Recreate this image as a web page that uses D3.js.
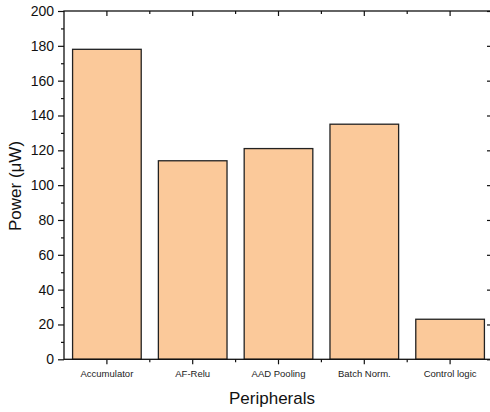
<!DOCTYPE html>
<html>
<head>
<meta charset="utf-8">
<script src="https://cdn.jsdelivr.net/npm/d3@7"></script>
<style>
  body { margin: 0; background: #fff; }
  svg { display: block; font-family: Arial, "Liberation Sans", sans-serif; }
</style>
</head>
<body>
<svg id="chart" width="490" height="412"></svg>
<script>
const categories = ["Accumulator", "AF-Relu", "AAD Pooling", "Batch Norm.", "Control logic"];
const power = [178, 114, 121, 135, 23];
const yTicks = [0, 20, 40, 60, 80, 100, 120, 140, 160, 180, 200];
const yMinorTicks = [10, 30, 50, 70, 90, 110, 130, 150, 170, 190];

const svg = d3.select("#chart");
const plotLeft = 64, plotRight = 493, plotTop = 11, plotBottom = 359.3;

const xBand = d3.scaleBand().domain(categories).range([plotLeft, plotRight]);
const y = d3.scaleLinear().domain([0, 200]).range([plotBottom, plotTop]);

// bars
svg.append("g")
  .selectAll("rect")
  .data(categories)
  .join("rect")
  .attr("x", (d) => xBand(d) + xBand.bandwidth() * 0.1)
  .attr("width", xBand.bandwidth() * 0.8)
  .attr("y", (d, i) => y(power[i]))
  .attr("height", (d, i) => plotBottom - y(power[i]))
  .attr("fill", "#fbc99a")
  .attr("stroke", "#222")
  .attr("stroke-width", 1.3);

// y axis left
const yAxis = d3.axisLeft(y).tickValues(yTicks).tickSize(6).tickPadding(4).tickFormat(d3.format("d"));
const gy = svg.append("g").attr("transform", `translate(${plotLeft},0)`).call(yAxis);
gy.select(".domain").remove();
gy.selectAll("text").attr("font-size", 14).attr("fill", "#111");
gy.selectAll("line").attr("stroke", "#111").attr("stroke-width", 1.2);
svg.append("g").attr("transform", `translate(${plotLeft},0)`)
  .call(d3.axisLeft(y).tickValues(yMinorTicks).tickSize(3).tickFormat(""))
  .call((g) => g.select(".domain").remove())
  .selectAll("line").attr("stroke", "#111").attr("stroke-width", 1.2);

// y axis right (ticks pointing inward)
svg.append("g").attr("transform", `translate(${plotRight},0)`)
  .call(d3.axisLeft(y).tickValues(yTicks).tickSize(6).tickFormat(""))
  .call((g) => g.select(".domain").remove())
  .selectAll("line").attr("stroke", "#111").attr("stroke-width", 1.2);
svg.append("g").attr("transform", `translate(${plotRight},0)`)
  .call(d3.axisLeft(y).tickValues(yMinorTicks).tickSize(3).tickFormat(""))
  .call((g) => g.select(".domain").remove())
  .selectAll("line").attr("stroke", "#111").attr("stroke-width", 1.2);

// x axis bottom
const xCenter = (d) => xBand(d) + xBand.bandwidth() / 2;
const gx = svg.append("g").attr("transform", `translate(0,${plotBottom})`)
  .call(d3.axisBottom(xBand).tickSize(5).tickPadding(6));
gx.select(".domain").remove();
gx.selectAll("text").attr("font-size", 9.5).attr("fill", "#222");
gx.selectAll("line").attr("stroke", "#111").attr("stroke-width", 1.2);
const bounds = categories.slice(1).map((d) => xBand(d));
svg.append("g").selectAll("line").data(bounds).join("line")
  .attr("x1", (d) => d).attr("x2", (d) => d)
  .attr("y1", plotBottom).attr("y2", plotBottom + 3)
  .attr("stroke", "#111").attr("stroke-width", 1.2);

// x axis top (ticks pointing inward)
svg.append("g").selectAll("line").data(categories).join("line")
  .attr("x1", xCenter).attr("x2", xCenter)
  .attr("y1", plotTop).attr("y2", plotTop + 5)
  .attr("stroke", "#111").attr("stroke-width", 1.2);
svg.append("g").selectAll("line").data(bounds).join("line")
  .attr("x1", (d) => d).attr("x2", (d) => d)
  .attr("y1", plotTop).attr("y2", plotTop + 3)
  .attr("stroke", "#111").attr("stroke-width", 1.2);

// frame
svg.append("rect")
  .attr("x", plotLeft).attr("y", plotTop)
  .attr("width", plotRight - plotLeft).attr("height", plotBottom - plotTop)
  .attr("fill", "none").attr("stroke", "#111").attr("stroke-width", 1.3);

// titles
svg.append("text")
  .attr("x", 272).attr("y", 404)
  .attr("text-anchor", "middle").attr("font-size", 17).attr("fill", "#111")
  .text("Peripherals");
svg.append("text")
  .attr("transform", "translate(21,186) rotate(-90)")
  .attr("text-anchor", "middle").attr("font-size", 17).attr("fill", "#111")
  .text("Power (μW)");
</script>
</body>
</html>
